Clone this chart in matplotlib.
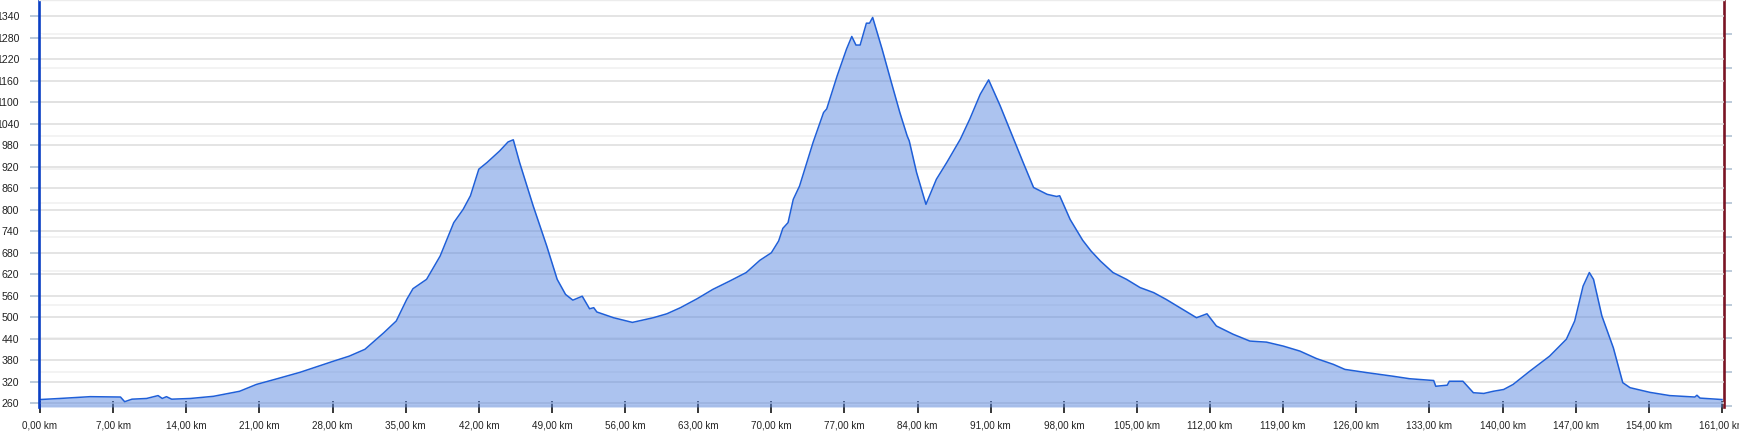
import numpy as np
import matplotlib
matplotlib.use("Agg")
import matplotlib.pyplot as plt
from matplotlib.ticker import MultipleLocator

plt.rcParams['font.family'] = ['Liberation Sans', 'DejaVu Sans']

# distance along the route (km) and elevation (m)
km = [0, 1.9, 4.8, 7.7, 8.1, 8.8, 10.2, 11.3, 11.7, 12.1, 12.6, 14.4, 16.6, 19.1,
      20.7, 22.7, 24.9, 28.1, 29.6, 31.1, 32.9, 34.1, 35.1, 35.7, 37.0, 38.3, 39.6,
      40.5, 41.2, 42.0, 42.8, 44.0, 44.8, 45.3, 45.9, 47.2, 48.5, 49.5, 50.3, 51.0,
      51.9, 52.6, 53.0, 53.3, 54.9, 56.7, 58.7, 60.0, 61.3, 62.9, 64.4, 66.0, 67.6,
      68.9, 70.0, 70.7, 71.1, 71.6, 72.1, 72.7, 74.0, 75.0, 75.3, 76.3, 77.2, 77.7,
      78.1, 78.5, 79.1, 79.4, 79.7, 80.6, 81.4, 82.3, 83.0, 83.2, 83.9, 84.8, 85.8,
      86.8, 88.1, 89.0, 90.0, 90.8, 91.9, 93.2, 94.1, 95.1, 96.4, 97.3, 97.6, 98.6,
      99.8, 100.6, 101.5, 102.7, 104.0, 105.3, 106.6, 107.8, 109.4, 110.7, 111.7,
      112.6, 114.2, 115.8, 117.4, 119.0, 120.6, 122.2, 123.8, 124.9, 127.0, 129.5,
      131.1, 133.4, 133.6, 134.7, 134.9, 136.2, 137.2, 138.2, 139.1, 140.1, 141.0,
      142.6, 144.5, 146.1, 146.9, 147.7, 148.3, 148.7, 149.5, 150.6, 151.5, 152.2,
      154.1, 156.0, 158.4, 158.6, 158.9, 161.0]
elev = [271, 274, 279, 278, 265, 272, 274, 282, 274, 279, 272, 274, 280, 294,
        313, 329, 347, 378, 392, 411, 457, 490, 550, 580, 606, 671, 764,
        801, 839, 913, 932, 964, 989, 995, 932, 811, 699, 606, 564, 548,
        559, 524, 527, 515, 499, 486, 499, 510, 527, 552, 578, 601, 625,
        659, 680, 713, 748, 764, 829, 866, 988, 1071, 1081, 1173, 1248, 1283,
        1259, 1259, 1320, 1320, 1336, 1248, 1164, 1071, 1006, 992, 904, 815, 885,
        932, 997, 1053, 1122, 1162, 1090, 997, 932, 862, 843, 837, 839, 773,
        715, 685, 657, 625, 606, 583, 569, 550, 522, 499, 510,
        476, 453, 434, 431, 420, 406, 385, 369, 355, 346, 336,
        329, 324, 308, 311, 322, 322, 290, 288, 294, 299, 313,
        350, 392, 439, 490, 587, 625, 606, 504, 415, 318, 304,
        291, 282, 278, 283, 275, 271]

y_ticks = np.arange(260, 1341, 60)
x_ticks = np.arange(0, 162, 7)
x_labels = [f"{v},00 km" for v in x_ticks]

W, H = 1739, 433
fig = plt.figure(figsize=(W / 100, H / 100), dpi=100)
rect = [39 / W, 26 / H, 1685 / W, 407 / H]

# right-hand (unlabelled) axis, kept underneath the profile
ax2 = fig.add_axes(rect)
ax2.set_xlim(0, 1)
ax2.set_ylim(0, 407)
ax2.set_yticks(1 + 33.8 * np.arange(12))
ax2.yaxis.set_minor_locator(MultipleLocator(16.9))
ax2.yaxis.tick_right()
ax2.tick_params(axis='y', which='major', direction='out', length=6, width=1.1,
                color='#a9bcd0', labelright=False, labelleft=False)
ax2.tick_params(axis='y', which='minor', direction='in', length=2, width=1,
                color='white', right=True, left=False)
ax2.set_xticks([])
ax2.grid(axis='y', which='major', color='#f1f1f1', lw=1.2)
for s in ['left', 'top', 'bottom']:
    ax2.spines[s].set_visible(False)
ax2.spines['right'].set_color('#7a1424')
ax2.spines['right'].set_linewidth(1.9)

ax = fig.add_axes(rect)
ax.patch.set_visible(False)
ax.set_xlim(-0.1, 161.19)
ax.set_ylim(250.2, 1384.6)
ax.fill_between(km, elev, ax.get_ylim()[0], color='#5a88e0', alpha=0.5, lw=0)
ax.plot(km, elev, color='#1f5fd8', lw=1.1)

# labels sit right against the left edge, so the leading "1" falls off the figure
ax.set_yticks(y_ticks)
ax.set_yticklabels([str(v) for v in y_ticks])
ax.yaxis.set_minor_locator(MultipleLocator(30))
ax.tick_params(axis='y', which='major', length=6.5, width=1.1, color='#a9bcd0',
               pad=7.8, labelsize=7.6, labelcolor='#222222')
ax.tick_params(axis='y', which='minor', direction='in', length=2, width=1,
               color='white')
ax.set_xticks(x_ticks)
ax.set_xticklabels(x_labels)
ax.tick_params(axis='x', direction='inout', length=8, width=1.1, color='black',
               pad=5.5, labelsize=7.1, labelcolor='#222222')
ax.grid(axis='y', color='#dcdcdc', lw=1.1)
ax.set_axisbelow(True)

ax.spines['left'].set_color('#0a3fc4')
ax.spines['left'].set_linewidth(1.9)
ax.spines['right'].set_visible(False)
ax.spines['bottom'].set_visible(False)
ax.spines['top'].set_color('#ececec')
ax.spines['top'].set_linewidth(1)

fig.savefig('out.png', dpi=100)
